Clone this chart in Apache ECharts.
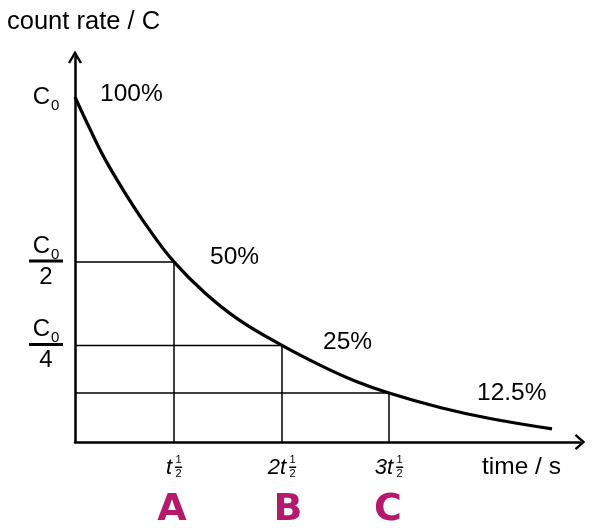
<!DOCTYPE html>
<html><head><meta charset="utf-8">
<script src="https://cdn.jsdelivr.net/npm/echarts@6/dist/echarts.min.js"></script>
<style>html,body{margin:0;padding:0;background:#fff}#c{width:595px;height:528px}</style>
</head><body><div id="c"></div>
<script>
// ---- data ----
const curveTime = [0, 0.14, 0.30, 0.52, 0.74, 0.99, 1.30, 1.64, 2.07, 2.47, 2.80, 3.14, 3.65, 4.15, 4.77];
const curveRate = [100, 91.3, 82.0, 71.3, 61.7, 52.2, 43.2, 35.4, 28.0, 22.0, 17.7, 14.2, 10.0, 6.8, 3.8];
const halfLifeTimes = [0.99, 2.07, 3.14];
const halfLifeRates = [52.2, 28.0, 14.2];
const yTickValues = [100, 52.2, 28.0];
const yTickLabels = ['C0', 'C0/2', 'C0/4'];
const xTickPrefixes = ['t', '2t', '3t'];
const xTickLetters = ['A', 'B', 'C'];
const pctPointTimes = [0, 0.99, 2.07, 3.14];
const pctPointRates = [100, 52.2, 28.0, 14.2];
const pctLabels = ['100%', '50%', '25%', '12.5%'];
const yAxisTitle = 'count rate / C';
const xAxisTitle = 'time / s';

// ---- layout / style ----
const FONT = '"Liberation Sans", Arial, Helvetica, sans-serif';
const pctOffsets = [[25, -3], [36, -5], [41, -3], [88, 0]];
const letterOffsets = [-2, 6, -1];
const X_MAX = 5.05, Y_MAX = 111.6;
const arrowY = 'path://M7,0 L14,12 L11.93,13.2 L7,4.76 L2.07,13.2 L0,12 Z';
const arrowX = 'path://M8,0 L16,9 L14.21,10.6 L8,3.6 L1.79,10.6 L0,9 Z';

const chart = echarts.init(document.getElementById('c'), null, {renderer: 'canvas'});

function yLabel(v) {
  const i = yTickValues.findIndex(t => Math.abs(t - v) < 1e-6);
  if (i < 0) return '';
  const parts = yTickLabels[i].split('/');
  let s = '{c|' + parts[0][0] + '}{s|' + parts[0].slice(1) + '}';
  if (parts[1]) s += '\n{bar| }\n{d|' + parts[1] + '}';
  return s;
}

const refSeries = halfLifeTimes.map((t, i) => ({
  type: 'line', silent: true, symbol: 'none', z: 2,
  lineStyle: {color: '#000', width: 1.5},
  data: [[0, halfLifeRates[i]], [t, halfLifeRates[i]], [t, 0]]
}));

chart.setOption({
  animation: false,
  backgroundColor: '#fff',
  grid: {left: 75, right: 15, top: 57, bottom: 86},
  xAxis: {
    type: 'value', min: 0, max: X_MAX,
    axisLine: {onZero: false, lineStyle: {color: '#000', width: 2.5}, symbol: ['none', arrowX], symbolSize: [16, 10.6]},
    axisTick: {show: false}, splitLine: {show: false}, axisLabel: {show: false}
  },
  yAxis: {
    type: 'value', min: 0, max: Y_MAX,
    axisLine: {show: true, onZero: false, lineStyle: {color: '#000', width: 2.5}, symbol: ['none', arrowY], symbolSize: [14, 13.2]},
    axisTick: {show: false}, splitLine: {show: false},
    axisLabel: {
      show: true, customValues: yTickValues, formatter: yLabel,
      align: 'center', margin: 29, color: '#000',
      rich: {
        c: {fontFamily: FONT, fontSize: 24, lineHeight: 24, color: '#000'},
        s: {fontFamily: FONT, fontSize: 15, lineHeight: 15, color: '#000', verticalAlign: 'bottom', padding: [0, 0, -4, 1]},
        bar: {width: 34, height: 3, lineHeight: 6, backgroundColor: '#000', fontSize: 3},
        d: {fontFamily: FONT, fontSize: 24, lineHeight: 26, color: '#000'}
      }
    }
  },
  series: refSeries.concat([{
    type: 'line', silent: true, symbol: 'none', smooth: 0.4, z: 3,
    lineStyle: {color: '#000', width: 3.2},
    data: curveTime.map((t, i) => [t, curveRate[i]])
  }])
});

// ---- annotations placed through the axes ----
const ctx = document.createElement('canvas').getContext('2d');
const gfx = [];
const axisY0 = chart.convertToPixel({yAxisIndex: 0}, 0);
function txt(x, y, text, font, fill, align) {
  return {type: 'text', x: x, y: y, style: {text: text, font: font, fill: fill || '#000',
    textAlign: align || 'left', align: align || 'left', textVerticalAlign: 'middle', verticalAlign: 'middle'}};
}
halfLifeTimes.forEach((t, i) => {
  const tx = chart.convertToPixel({xAxisIndex: 0}, t);
  const mainFont = 'italic 22px ' + FONT;
  ctx.font = mainFont;
  const mw = ctx.measureText(xTickPrefixes[i]).width;
  const gap = 3, fw = 7;
  const left = tx - (mw + gap + fw) / 2;
  const ly = axisY0 + 26;
  gfx.push(txt(left, ly, xTickPrefixes[i], mainFont));
  const fx = left + mw + gap + fw / 2;
  gfx.push(txt(fx, ly - 8, '1', '11px ' + FONT, '#000', 'center'));
  gfx.push({type: 'rect', shape: {x: fx - fw / 2, y: ly - 1.5, width: fw, height: 1.5}, style: {fill: '#000'}});
  gfx.push(txt(fx, ly + 6, '2', '11px ' + FONT, '#000', 'center'));
  gfx.push(txt(tx + letterOffsets[i], axisY0 + 68, xTickLetters[i], 'bold 38px "DejaVu Sans", sans-serif', '#B4196E', 'center'));
});
pctLabels.forEach((lab, i) => {
  const p = chart.convertToPixel({gridIndex: 0}, [pctPointTimes[i], pctPointRates[i]]);
  gfx.push(txt(p[0] + pctOffsets[i][0], p[1] + pctOffsets[i][1], lab, '24.5px ' + FONT));
});
gfx.push(txt(7, 22, yAxisTitle, '25.5px ' + FONT));
gfx.push(txt(482, 467, xAxisTitle, '24.5px ' + FONT));
chart.setOption({graphic: {elements: gfx}});
</script>
</body></html>
